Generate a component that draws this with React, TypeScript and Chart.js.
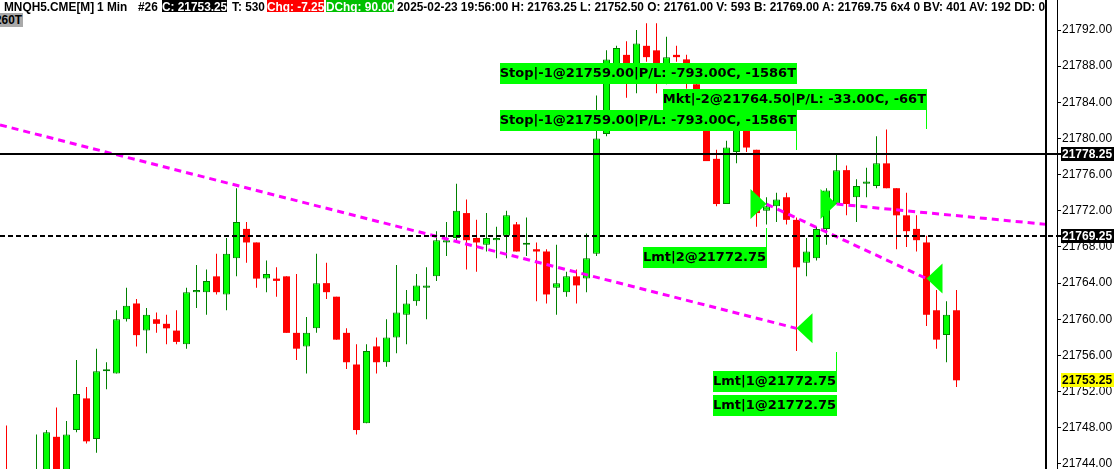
import { useEffect, useRef } from 'react';
import { Chart, registerables } from 'chart.js';

Chart.register(...registerables);

// 1-minute MNQH5 bars, oldest first
const OPEN = [
  21742.5, 21739.5, 21737.0, 21741.5, 21740.5, 21747.0, 21742.5, 21747.75, 21751.25, 21746.75,
  21754.25, 21754.0, 21760.0, 21761.75, 21758.75, 21760.0, 21759.5, 21758.75, 21757.25, 21763.0,
  21763.0, 21764.75, 21762.75, 21766.75, 21770.0, 21768.5, 21764.5, 21764.5, 21764.75, 21758.5,
  21757.0, 21759.0, 21764.0, 21762.5, 21758.5, 21755.0, 21748.5, 21757.0, 21755.25, 21758.0,
  21760.5, 21762.0, 21763.5, 21764.75, 21768.5, 21769.0, 21771.75, 21769.0, 21768.25, 21768.75,
  21769.25, 21770.5, 21768.25, 21767.75, 21767.5, 21763.5, 21763.0, 21764.75, 21764.5, 21767.25,
  21780.5, 21787.75, 21789.25, 21787.0, 21790.25, 21789.75, 21787.75, 21789.25, 21788.75, 21786.0,
  21784.5, 21777.75, 21772.75, 21778.5, 21781.75, 21778.75, 21772.0, 21772.5, 21773.5, 21771.0,
  21766.25, 21766.75, 21770.0, 21772.75, 21776.5, 21773.5, 21775.0, 21774.75, 21777.25, 21774.5,
  21771.5, 21770.0, 21768.5, 21761.0, 21758.25, 21761.0,
];
const HIGH = [
  21748.25, 21741.5, 21742.75, 21747.25, 21747.75, 21750.25, 21748.75, 21755.5, 21752.5, 21756.75,
  21755.25, 21761.0, 21763.5, 21762.25, 21761.25, 21760.75, 21760.5, 21761.0, 21763.5, 21766.0,
  21765.5, 21767.25, 21769.0, 21774.5, 21770.75, 21768.5, 21766.5, 21765.75, 21764.75, 21765.0,
  21760.25, 21767.25, 21766.25, 21762.5, 21759.0, 21757.25, 21757.25, 21758.0, 21760.0, 21766.0,
  21763.25, 21765.0, 21765.75, 21769.75, 21770.75, 21775.0, 21773.25, 21771.0, 21771.75, 21770.25,
  21772.0, 21770.75, 21771.25, 21768.5, 21767.75, 21768.25, 21765.25, 21765.5, 21769.5, 21784.75,
  21789.75, 21790.25, 21790.75, 21792.0, 21792.75, 21792.75, 21791.25, 21790.25, 21789.25, 21786.5,
  21785.0, 21778.75, 21779.75, 21782.0, 21782.25, 21778.75, 21773.5, 21774.0, 21774.0, 21771.25,
  21769.0, 21770.25, 21774.5, 21778.25, 21777.0, 21775.5, 21776.75, 21780.25, 21781.0, 21774.5,
  21774.0, 21771.5, 21769.25, 21763.25, 21762.0, 21763.25,
];
const LOW = [
  21738.5, 21735.25, 21736.5, 21740.0, 21739.75, 21741.5, 21741.75, 21747.5, 21746.25, 21745.25,
  21752.25, 21754.0, 21759.75, 21757.0, 21756.25, 21758.5, 21757.25, 21757.25, 21756.75, 21761.25,
  21760.5, 21762.75, 21761.0, 21764.75, 21766.25, 21763.5, 21763.0, 21762.5, 21758.5, 21755.5,
  21754.0, 21758.5, 21762.25, 21757.75, 21754.5, 21747.25, 21748.5, 21754.0, 21754.75, 21756.25,
  21757.25, 21761.5, 21760.0, 21764.25, 21767.0, 21768.75, 21765.5, 21765.25, 21767.5, 21766.75,
  21766.75, 21767.5, 21767.0, 21762.0, 21761.75, 21760.5, 21762.5, 21761.75, 21763.0, 21767.0,
  21780.25, 21787.25, 21784.5, 21785.0, 21788.5, 21785.0, 21786.0, 21788.5, 21785.5, 21782.75,
  21777.5, 21772.5, 21772.75, 21777.25, 21778.5, 21770.25, 21770.5, 21770.75, 21770.5, 21756.5,
  21764.75, 21766.5, 21768.25, 21772.75, 21771.5, 21770.75, 21773.5, 21774.5, 21774.5, 21767.75,
  21768.0, 21767.5, 21759.25, 21756.75, 21755.25, 21752.5,
];
const CLOSE = [
  21739.5, 21737.0, 21741.5, 21742.75, 21747.5, 21742.25, 21747.25, 21751.75, 21746.5, 21754.25,
  21754.25, 21760.0, 21761.5, 21758.25, 21760.5, 21759.5, 21759.0, 21757.5, 21763.0, 21763.25,
  21764.25, 21763.0, 21767.25, 21770.75, 21768.5, 21764.5, 21765.0, 21764.25, 21758.5, 21756.75,
  21758.5, 21764.0, 21763.0, 21757.75, 21755.25, 21747.75, 21756.5, 21755.25, 21758.0, 21760.75,
  21761.75, 21763.75, 21763.75, 21768.75, 21768.75, 21772.0, 21768.75, 21768.5, 21769.0, 21769.0,
  21771.5, 21767.5, 21768.25, 21767.5, 21762.75, 21764.0, 21764.75, 21763.75, 21766.75, 21780.0,
  21788.75, 21790.0, 21787.5, 21790.5, 21789.0, 21788.0, 21789.0, 21789.0, 21786.5, 21783.5,
  21777.5, 21772.75, 21779.0, 21781.5, 21779.0, 21771.75, 21772.5, 21773.25, 21771.0, 21765.75,
  21767.5, 21770.0, 21774.25, 21776.5, 21772.75, 21774.75, 21775.25, 21777.25, 21774.5, 21771.5,
  21769.75, 21768.75, 21760.5, 21757.75, 21760.5, 21753.25,
];

// price axis
const PRICE_TICKS = [
  21744, 21748, 21752, 21756, 21760, 21764, 21768, 21772, 21776, 21780, 21784, 21788, 21792,
];
const PRICE_MIN = 21743.44;
const PRICE_MAX = 21795.32;
const BAR_MIN = -0.65;
const BAR_MAX = 105.05;

// reference levels
const LAST_PRICE = 21753.25;
const POSITION_PRICE = 21778.25;
const AVERAGE_PRICE = 21769.25;
const SESSION_EDGE_BAR = 104;

// trade connector lines (bar index / price)
const TRADE_FROM_BAR = [-0.65, 76, 83];
const TRADE_FROM_PRICE = [21781.5, 21772.75, 21772.75];
const TRADE_TO_BAR = [79, 92, 104];
const TRADE_TO_PRICE = [21759.0, 21764.5, 21770.5];

// fills
const ENTRY_BARS = [76, 83];
const ENTRY_PRICES = [21772.75, 21772.75];
const EXIT_BARS = [79, 92];
const EXIT_PRICES = [21759.0, 21764.5];

// order tags
const ORDER_TEXT = [
  'Stop|-1@21759.00|P/L: -793.00C, -1586T',
  'Mkt|-2@21764.50|P/L: -33.00C, -66T',
  'Stop|-1@21759.00|P/L: -793.00C, -1586T',
  'Lmt|2@21772.75',
  'Lmt|1@21772.75',
  'Lmt|1@21772.75',
];
const ORDER_BAR = [79, 92, 79, 76, 83, 83];
const ORDER_LEVEL = [21787.2, 21784.4, 21782.0, 21766.85, 21753.2, 21750.55];
const ORDER_LEADER = [0, 1, 1, -1, -1, 0];

// status line
const HEADER_PLAIN = [
  { left: 4, text: 'MNQH5.CME[M]' },
  { left: 97, text: '1 Min' },
  { left: 138, text: '#26' },
  { left: 232, text: 'T: 530' },
  {
    left: 397,
    text: '2025-02-23 19:56:00 H: 21763.25 L: 21752.50 O: 21761.00 V: 593 B: 21769.00 A: 21769.75 6x4 0 BV: 401 AV: 192 DD: 0',
  },
];
const HEADER_BOXED = [
  { left: 162, text: 'C: 21753.25', bg: '#000000', fg: '#ffffff' },
  { left: 267, text: 'Chg: -7.25', bg: '#ff0000', fg: '#ffffff' },
  { left: 326, text: 'DChg: 90.00', bg: '#00c000', fg: '#ffffff' },
];
const SUBHEADER_TEXT = '260T';

const UP_FILL = '#00ff00';
const UP_LINE = '#008000';
const DOWN_FILL = '#ff0000';
const TAG_GREEN = '#00ff00';

const overlayPlugin = {
  id: 'tradeOverlay',
  afterDatasetsDraw(chart: any) {
    const { ctx, chartArea, scales } = chart;
    const xs = scales.x;
    const ys = scales.y;
    ctx.save();

    // position level (solid) and average level (dashed)
    const solidY = Math.round(ys.getPixelForValue(POSITION_PRICE));
    ctx.strokeStyle = '#000';
    ctx.lineWidth = 2;
    ctx.beginPath();
    ctx.moveTo(chartArea.left, solidY);
    ctx.lineTo(chartArea.right + 4, solidY);
    ctx.stroke();

    const dashY = Math.round(ys.getPixelForValue(AVERAGE_PRICE));
    ctx.setLineDash([5, 3]);
    ctx.beginPath();
    ctx.moveTo(chartArea.left, dashY);
    ctx.lineTo(chartArea.right + 4, dashY);
    ctx.stroke();
    ctx.setLineDash([]);

    // session edge
    const edgeX = Math.floor(xs.getPixelForValue(SESSION_EDGE_BAR));
    ctx.beginPath();
    ctx.moveTo(edgeX, 0);
    ctx.lineTo(edgeX, chart.height);
    ctx.stroke();

    // fill markers
    ctx.fillStyle = TAG_GREEN;
    ENTRY_BARS.forEach((b, i) => {
      const px = xs.getPixelForValue(b);
      const py = ys.getPixelForValue(ENTRY_PRICES[i]);
      ctx.beginPath();
      ctx.moveTo(px, py);
      ctx.lineTo(px - 16, py - 15);
      ctx.lineTo(px - 16, py + 15);
      ctx.closePath();
      ctx.fill();
    });
    EXIT_BARS.forEach((b, i) => {
      const px = xs.getPixelForValue(b);
      const py = ys.getPixelForValue(EXIT_PRICES[i]);
      ctx.beginPath();
      ctx.moveTo(px, py);
      ctx.lineTo(px + 16, py - 15);
      ctx.lineTo(px + 16, py + 15);
      ctx.closePath();
      ctx.fill();
    });

    // order tags
    ctx.font = 'bold 13px "DejaVu Sans"';
    ctx.textBaseline = 'middle';
    ctx.textAlign = 'right';
    const tagH = 21;
    ORDER_TEXT.forEach((text, i) => {
      const right = Math.round(xs.getPixelForValue(ORDER_BAR[i]));
      const cy = Math.round(ys.getPixelForValue(ORDER_LEVEL[i]));
      const w = Math.round(ctx.measureText(text).width) + 1;
      const top = cy - Math.floor(tagH / 2);
      ctx.fillStyle = TAG_GREEN;
      ctx.fillRect(right - w, top, w, tagH);
      ctx.fillStyle = '#000';
      ctx.fillText(text, right - 1, cy + 1);
      if (ORDER_LEADER[i] !== 0) {
        ctx.strokeStyle = TAG_GREEN;
        ctx.lineWidth = 1;
        ctx.beginPath();
        const lx = right - 0.5;
        if (ORDER_LEADER[i] > 0) {
          ctx.moveTo(lx, top + tagH);
          ctx.lineTo(lx, top + tagH + 19);
        } else {
          ctx.moveTo(lx, top);
          ctx.lineTo(lx, top - 19);
        }
        ctx.stroke();
      }
    });

    // axis price flags
    const flag = (price: number, bg: string, fg: string) => {
      const cy = Math.round(ys.getPixelForValue(price));
      ctx.fillStyle = bg;
      ctx.fillRect(chartArea.right + 4, cy - 7, 53, 14);
      ctx.fillStyle = fg;
      ctx.font = 'bold 12px "Liberation Sans"';
      ctx.textAlign = 'left';
      ctx.textBaseline = 'middle';
      ctx.fillText(price.toFixed(2), chartArea.right + 5, cy + 0.5);
    };
    flag(POSITION_PRICE, '#000', '#fff');
    flag(AVERAGE_PRICE, '#000', '#fff');
    flag(LAST_PRICE, '#ffff00', '#000');

    ctx.restore();
  },
};

export default function App() {
  const canvasRef = useRef<HTMLCanvasElement>(null);

  useEffect(() => {
    const up = CLOSE.map((c, i) => c >= OPEN[i]);
    const wicks = OPEN.map((_, i) => ({ x: i, y: [LOW[i], HIGH[i]] }));
    const bodies = OPEN.map((o, i) => ({ x: i, y: [o, CLOSE[i]] }));

    const tradeSets = TRADE_FROM_BAR.map((fb, i) => ({
      type: 'line' as const,
      data: [
        { x: fb, y: TRADE_FROM_PRICE[i] },
        { x: TRADE_TO_BAR[i], y: TRADE_TO_PRICE[i] },
      ],
      borderColor: '#ff00ff',
      borderWidth: 3,
      borderDash: [7, 5],
      pointRadius: 0,
      tension: 0,
      order: 1,
    }));

    const chart = new Chart(canvasRef.current as HTMLCanvasElement, {
      type: 'bar',
      data: {
        datasets: [
          ...tradeSets,
          {
            type: 'bar',
            data: bodies,
            backgroundColor: up.map((u) => (u ? UP_FILL : DOWN_FILL)),
            borderColor: up.map((u) => (u ? UP_LINE : DOWN_FILL)),
            borderWidth: up.map((u) => (u ? 1 : 0)),
            borderSkipped: false,
            barThickness: 7,
            minBarLength: 2,
            grouped: false,
            inflateAmount: 0,
            order: 2,
          },
          {
            type: 'bar',
            data: wicks,
            backgroundColor: up.map((u) => (u ? UP_LINE : DOWN_FILL)),
            borderWidth: 0,
            barThickness: 1,
            grouped: false,
            inflateAmount: 0,
            order: 3,
          },
        ] as any,
      },
      options: {
        animation: false,
        responsive: false,
        maintainAspectRatio: false,
        layout: { padding: 0 },
        plugins: {
          legend: { display: false },
          tooltip: { enabled: false },
        },
        scales: {
          x: {
            type: 'linear',
            min: BAR_MIN,
            max: BAR_MAX,
            display: false,
            offset: false,
          },
          y: {
            type: 'linear',
            position: 'right',
            min: PRICE_MIN,
            max: PRICE_MAX,
            beginAtZero: false,
            afterBuildTicks: (scale: any) => {
              scale.ticks = PRICE_TICKS.map((v) => ({ value: v }));
            },
            afterFit: (scale: any) => {
              scale.width = 62;
              scale.paddingTop = 0;
              scale.paddingBottom = 0;
            },
            ticks: {
              color: '#000',
              padding: 1,
              font: { family: '"Liberation Sans"', size: 12 },
              callback: (v: any) => Number(v).toFixed(2),
            },
            grid: {
              drawOnChartArea: false,
              drawTicks: true,
              tickLength: 4,
              color: '#000',
            },
            border: { display: true, color: '#000', width: 1 },
          },
        },
      } as any,
      plugins: [overlayPlugin],
    });

    return () => chart.destroy();
  }, []);

  const headerFont = 'bold 11.85px "Liberation Sans"';

  return (
    <div
      style={{
        position: 'absolute',
        left: 0,
        top: 0,
        width: 1119,
        height: 469,
        overflow: 'hidden',
        background: '#fff',
      }}
    >
      <canvas ref={canvasRef} width={1119} height={469} style={{ display: 'block' }} />
      {HEADER_PLAIN.map((h) => (
        <div
          key={h.left}
          style={{
            position: 'absolute',
            left: h.left,
            top: 0,
            height: 12,
            lineHeight: '12px',
            font: headerFont,
            whiteSpace: 'pre',
            color: '#000',
          }}
        >
          {h.text}
        </div>
      ))}
      {HEADER_BOXED.map((h) => (
        <div
          key={h.left}
          style={{
            position: 'absolute',
            left: h.left,
            top: 0,
            height: 12,
            lineHeight: '12px',
            font: headerFont,
            whiteSpace: 'pre',
            color: h.fg,
            background: h.bg,
          }}
        >
          {h.text}
        </div>
      ))}
      <div
        style={{
          position: 'absolute',
          left: -5,
          top: 13,
          height: 14,
          lineHeight: '14px',
          font: headerFont,
          whiteSpace: 'pre',
          color: '#000',
          background: '#a9a9a9',
          paddingRight: 1,
        }}
      >
        {SUBHEADER_TEXT}
      </div>
    </div>
  );
}
